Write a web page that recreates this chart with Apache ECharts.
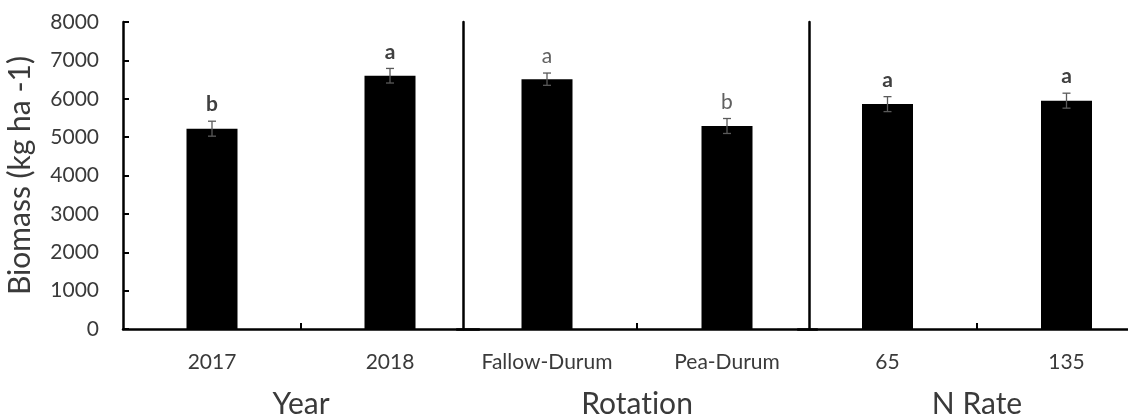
<!DOCTYPE html>
<html>
<head>
<meta charset="utf-8">
<script src="https://cdn.jsdelivr.net/npm/echarts@6/dist/echarts.min.js"></script>
<style>
html,body{margin:0;padding:0;background:#fff;overflow:hidden;}
#chart{width:1128px;height:419px;}
</style>
</head>
<body>
<div id="chart"></div>
<script>
// ---- data ----
const yearCategories = ['2017', '2018'];
const yearValues = [5220, 6600];
const yearErrors = [195, 190];
const yearLetters = ['b', 'a'];

const rotationCategories = ['Fallow-Durum', 'Pea-Durum'];
const rotationValues = [6510, 5290];
const rotationErrors = [160, 195];
const rotationLetters = ['a', 'b'];

const nRateCategories = ['65', '135'];
const nRateValues = [5860, 5950];
const nRateErrors = [195, 195];
const nRateLetters = ['a', 'a'];

const groupNames = ['Year', 'Rotation', 'N Rate'];
const yAxisName = 'Biomass (kg ha -1)';
const yMin = 0, yMax = 8000, yStep = 1000;

// no typographic ligatures (reference font has none)
(function () {
  const P = CanvasRenderingContext2D.prototype;
  const ft = P.fillText, mt = P.measureText;
  P.fillText = function () { try { this.textRendering = 'optimizeSpeed'; } catch (e) {} return ft.apply(this, arguments); };
  P.measureText = function () { try { this.textRendering = 'optimizeSpeed'; } catch (e) {} return mt.apply(this, arguments); };
})();

// ---- layout / style ----
const FONT = 'Lato';
const groups = [
  {cats: yearCategories, vals: yearValues, errs: yearErrors, letters: yearLetters, bold: true},
  {cats: rotationCategories, vals: rotationValues, errs: rotationErrors, letters: rotationLetters, bold: false},
  {cats: nRateCategories, vals: nRateValues, errs: nRateErrors, letters: nRateLetters, bold: true}
];
const boxes = [
  {left: 123, width: 356, shift: 0},
  {left: 457, width: 360, shift: 6},
  {left: 798, width: 358, shift: 11}
];
const TOP = 22, HEIGHT = 307;

const grid = boxes.map(b => ({
  left: b.left, width: b.width, top: TOP, height: HEIGHT,
  containLabel: false, outerBoundsMode: 'none'
}));

const xAxis = [];
const yAxis = [];
const series = [];

groups.forEach((g, i) => {
  // axis carrying the categories (labels + name)
  xAxis.push({
    type: 'category', gridIndex: i, position: 'bottom', data: g.cats,
    axisLine: {show: false}, axisTick: {show: false},
    axisLabel: {fontSize: 21, color: '#3a3a3a', margin: 23, fontFamily: FONT},
    name: groupNames[i], nameLocation: 'middle', nameGap: 60,
    nameTextStyle: {fontSize: 30, color: '#3a3a3a', fontFamily: FONT}
  });
  // axis drawing the baseline and the single mid tick
  xAxis.push({
    type: 'category', gridIndex: i, position: 'bottom', boundaryGap: false,
    data: ['', '', ''], silent: true,
    axisLine: {show: true, lineStyle: {color: '#000', width: 2.5}},
    axisTick: {show: true, inside: true, length: 6, interval: (idx) => idx === 1,
      lineStyle: {color: '#000', width: 2}},
    axisLabel: {show: false}
  });
  yAxis.push({
    type: 'value', gridIndex: i, min: yMin, max: yMax, interval: yStep,
    offset: -boxes[i].shift,
    axisLine: {show: true, lineStyle: {color: '#000', width: 2.5}},
    axisTick: {show: i === 0, inside: true, length: 6, lineStyle: {color: '#000', width: 2}},
    axisLabel: {show: i === 0, fontSize: 21, color: '#3a3a3a', margin: 24, fontFamily: FONT,
      formatter: v => String(v)},
    splitLine: {show: false},
    name: i === 0 ? yAxisName : '',
    nameLocation: 'middle', nameGap: 88,
    nameTextStyle: {fontSize: 30, color: '#3a3a3a', fontFamily: FONT}
  });
  series.push({
    type: 'bar', xAxisIndex: i * 2, yAxisIndex: i, data: g.vals,
    barWidth: 51, itemStyle: {color: '#000'}, silent: true, animation: false
  });
  series.push({
    type: 'custom', xAxisIndex: i * 2, yAxisIndex: i, z: 5, animation: false, silent: true,
    data: g.vals.map((v, j) => [j, v, g.errs[j]]),
    renderItem: function (params, api) {
      const xi = api.value(0), v = api.value(1), e = api.value(2);
      const top = api.coord([xi, v + e]);
      const bot = api.coord([xi, v - e]);
      const cx = top[0];
      const hw = 4;
      const st = {stroke: '#5a5a5a', lineWidth: 1.3};
      return {
        type: 'group',
        children: [
          {type: 'line', shape: {x1: cx, y1: top[1], x2: cx, y2: bot[1]}, style: st},
          {type: 'line', shape: {x1: cx - hw, y1: top[1], x2: cx + hw, y2: top[1]}, style: st},
          {type: 'line', shape: {x1: cx - hw, y1: bot[1], x2: cx + hw, y2: bot[1]}, style: st},
          {type: 'text', x: cx, y: top[1] - 6,
            style: {text: g.letters[params.dataIndex], align: 'center', verticalAlign: 'bottom',
              fontSize: 21, fontWeight: g.bold ? 'bold' : 'normal', fontFamily: FONT,
              fill: g.bold ? '#404040' : '#606060'}}
        ]
      };
    }
  });
});

const chart = echarts.init(document.getElementById('chart'), null, {renderer: 'canvas'});
chart.setOption({
  animation: false,
  backgroundColor: '#fff',
  textStyle: {fontFamily: FONT},
  grid: grid,
  xAxis: xAxis,
  yAxis: yAxis,
  series: series
});
</script>
</body>
</html>
